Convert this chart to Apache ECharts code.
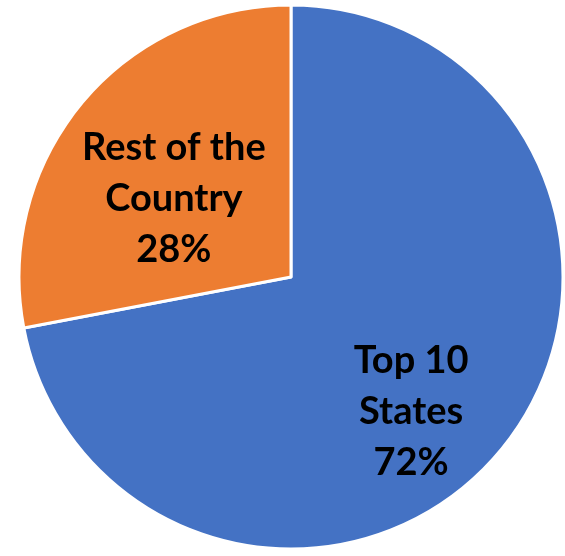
<!DOCTYPE html>
<html>
<head>
<meta charset="utf-8">
<script src="https://cdn.jsdelivr.net/npm/echarts@6/dist/echarts.min.js"></script>
<style>
  html, body { margin: 0; padding: 0; background: #fff; }
  #chart { width: 565px; height: 556px; }
</style>
</head>
<body>
<div id="chart"></div>
<script>
  var names = ['Top 10\nStates', 'Rest of the\nCountry'];
  var values = [72, 28];
  var colors = ['#4472C4', '#ED7D31'];
  // nudges so the labels sit where the original put them
  var labelOffsets = [[13, 46], [-10, 10]];

  var data = names.map(function (n, i) {
    return {
      name: n,
      value: values[i],
      itemStyle: { color: colors[i] },
      label: { offset: labelOffsets[i] }
    };
  });

  var myChart = echarts.init(document.getElementById('chart'));
  var option = {
    animation: false,
    series: [
      {
        type: 'pie',
        center: [291, 277],
        radius: [0, 272],
        startAngle: 90,
        clockwise: true,
        data: data,
        itemStyle: {
          borderColor: '#fff',
          borderWidth: 3
        },
        label: {
          show: true,
          position: 'inside',
          formatter: function (p) { return p.name + '\n' + p.value + '%'; },
          color: '#000',
          fontFamily: 'Lato',
          fontWeight: 'bold',
          fontSize: 38,
          lineHeight: 51,
          align: 'center'
        },
        labelLine: { show: false },
        emphasis: { disabled: true }
      }
    ]
  };
  myChart.setOption(option);
</script>
</body>
</html>
